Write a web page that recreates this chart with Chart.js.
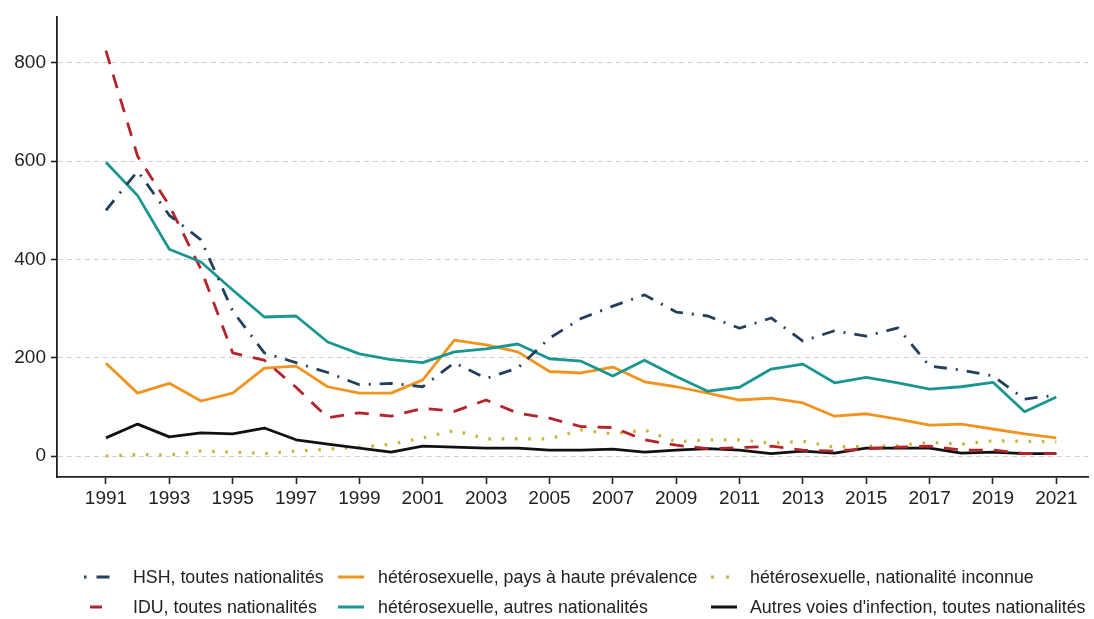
<!DOCTYPE html>
<html>
<head>
<meta charset="utf-8">
<script src="https://cdn.jsdelivr.net/npm/chart.js@4.4.1/dist/chart.umd.min.js"></script>
<style>
  html, body { margin: 0; padding: 0; background: #fff; }
  #wrap { position: relative; width: 1094px; height: 619px; overflow: hidden; }
  canvas { position: absolute; left: 0; top: 0; }
  .lg { position: absolute; font-family: "Liberation Sans", Arial, sans-serif; font-size: 17.8px; color: #222; white-space: nowrap; line-height: 20px; }
  .sym { position: absolute; }
</style>
</head>
<body>
<div id="wrap">
  <canvas id="c" width="1094" height="619"></canvas>
  <div id="legend"></div>
</div>
<script>
const years = [1991,1992,1993,1994,1995,1996,1997,1998,1999,2000,2001,2002,2003,2004,2005,2006,2007,2008,2009,2010,2011,2012,2013,2014,2015,2016,2017,2018,2019,2020,2021];
const hsh    = [500,580,490,440,295,210,190,170,145,148,141,190,158,179,240,280,305,328,293,285,260,281,234,255,244,261,183,175,163,116,124];
const idu    = [825,610,510,380,210,195,140,78,88,81,97,91,114,87,77,60,58,33,22,15,17,20,12,10,15,18,20,12,12,5,5];
const hautePrev = [189,128,148,112,128,179,183,141,128,128,155,236,226,212,172,169,181,151,141,128,114,118,108,81,86,75,63,65,55,45,37];
const autresNat = [598,530,421,395,338,283,285,232,208,196,190,212,218,228,198,193,163,195,162,132,140,177,187,149,160,149,136,141,150,90,120];
const inconnue  = [0,3,2,10,8,5,10,14,18,24,37,52,35,35,35,53,45,53,29,33,33,26,30,18,20,21,28,24,31,30,29];
const autresVoies = [37,65,39,47,45,57,33,24,16,8,20,18,16,16,12,12,14,8,12,15,12,5,10,6,16,16,16,6,8,5,5];
const yTicks = [0,200,400,600,800];
const xTicks = [1991,1993,1995,1997,1999,2001,2003,2005,2007,2009,2011,2013,2015,2017,2019,2021];
const labels = ["HSH, toutes nationalités","IDU, toutes nationalités","hétérosexuelle, pays à haute prévalence","hétérosexuelle, autres nationalités","hétérosexuelle, nationalité inconnue","Autres voies d'infection, toutes nationalités"];

const colors = ["#233f5e","#b5232b","#f0931f","#1a9690","#c8b43a","#111111"];
const dashes = [[13,9,2,9],[14,11],[],[],[2.6,10.7],[]];
const series = [hsh, idu, hautePrev, autresNat, inconnue, autresVoies];

const pts = arr => arr.map((v,i)=>({x: years[i], y: v}));
const datasets = series.map((s,i)=>({
  label: labels[i],
  data: pts(s),
  borderColor: colors[i],
  backgroundColor: colors[i],
  borderWidth: i===4 ? 3.2 : 2.8,
  borderDash: dashes[i],
  pointRadius: 0,
  tension: 0,
  fill: false,
  borderCapStyle: 'butt',
  borderJoinStyle: 'round'
}));
const order = [4,5,2,1,3,0];
order.forEach((di,k)=>{ datasets[di].order = 6-k; });

const font = { family: "'Liberation Sans', Arial, sans-serif", size: 19 };

new Chart(document.getElementById('c'), {
  type: 'line',
  data: { datasets },
  options: {
    responsive: false,
    animation: false,
    layout: { padding: { top: 17, right: 6, bottom: 0, left: 0 } },
    plugins: { legend: { display: false }, tooltip: { enabled: false } },
    scales: {
      x: {
        type: 'linear',
        min: 1989.455,
        max: 2022.0,
        afterBuildTicks: s => { s.ticks = xTicks.map(v=>({value:v})); },
        afterFit: s => { s.height = 142; },
        ticks: { color: '#222', font, padding: 3, maxRotation: 0, autoSkip: false, callback: v => String(v) },
        grid: { display: true, drawOnChartArea: false, drawTicks: true, tickLength: 7, tickColor: '#222', tickWidth: 1.6 },
        border: { display: true, color: '#222', width: 1.8 }
      },
      y: {
        min: -42.7,
        max: 893.6,
        afterBuildTicks: s => { s.ticks = yTicks.map(v=>({value:v})); },
        afterFit: s => { s.width = 57; },
        ticks: { color: '#222', font, padding: 5, callback: v => String(v) },
        grid: { display: true, drawOnChartArea: true, drawTicks: true, tickLength: 6, color: '#cfcfcf', lineWidth: 1, tickColor: '#222', tickWidth: 1.6, tickBorderDash: [] },
        border: { display: true, color: '#222', width: 1.8, dash: [5,4] }
      }
    }
  }
});

const lg = document.getElementById('legend');
const slots = [
  {y: 577, sx1: 84, sx2: 116, tx: 133},
  {y: 607, sx1: 90, sx2: 116, tx: 133},
  {y: 577, sx1: 338, sx2: 364, tx: 378},
  {y: 607, sx1: 338, sx2: 364, tx: 378},
  {y: 577, sx1: 711, sx2: 737, tx: 750},
  {y: 607, sx1: 711, sx2: 737, tx: 750}
];
const symDash = [[2.5,10,13,20],[12,30],[],[],[3,12],[]];
slots.forEach((p,i)=>{
  const svgNS = 'http://www.w3.org/2000/svg';
  const svg = document.createElementNS(svgNS,'svg');
  svg.setAttribute('class','sym');
  svg.setAttribute('width', p.sx2 - p.sx1 + 4);
  svg.setAttribute('height', 10);
  svg.style.left = (p.sx1 - 2) + 'px';
  svg.style.top = (p.y - 5) + 'px';
  const ln = document.createElementNS(svgNS,'line');
  ln.setAttribute('x1', 2); ln.setAttribute('x2', p.sx2 - p.sx1 + 2);
  ln.setAttribute('y1', 5); ln.setAttribute('y2', 5);
  ln.setAttribute('stroke', colors[i]);
  ln.setAttribute('stroke-width', i===4 ? 3.2 : 3);
  if (symDash[i].length) ln.setAttribute('stroke-dasharray', symDash[i].join(' '));
  svg.appendChild(ln);
  lg.appendChild(svg);
  const t = document.createElement('div');
  t.className = 'lg';
  t.textContent = labels[i];
  t.style.left = p.tx + 'px';
  t.style.top = (p.y - 10) + 'px';
  lg.appendChild(t);
});
</script>
</body>
</html>
